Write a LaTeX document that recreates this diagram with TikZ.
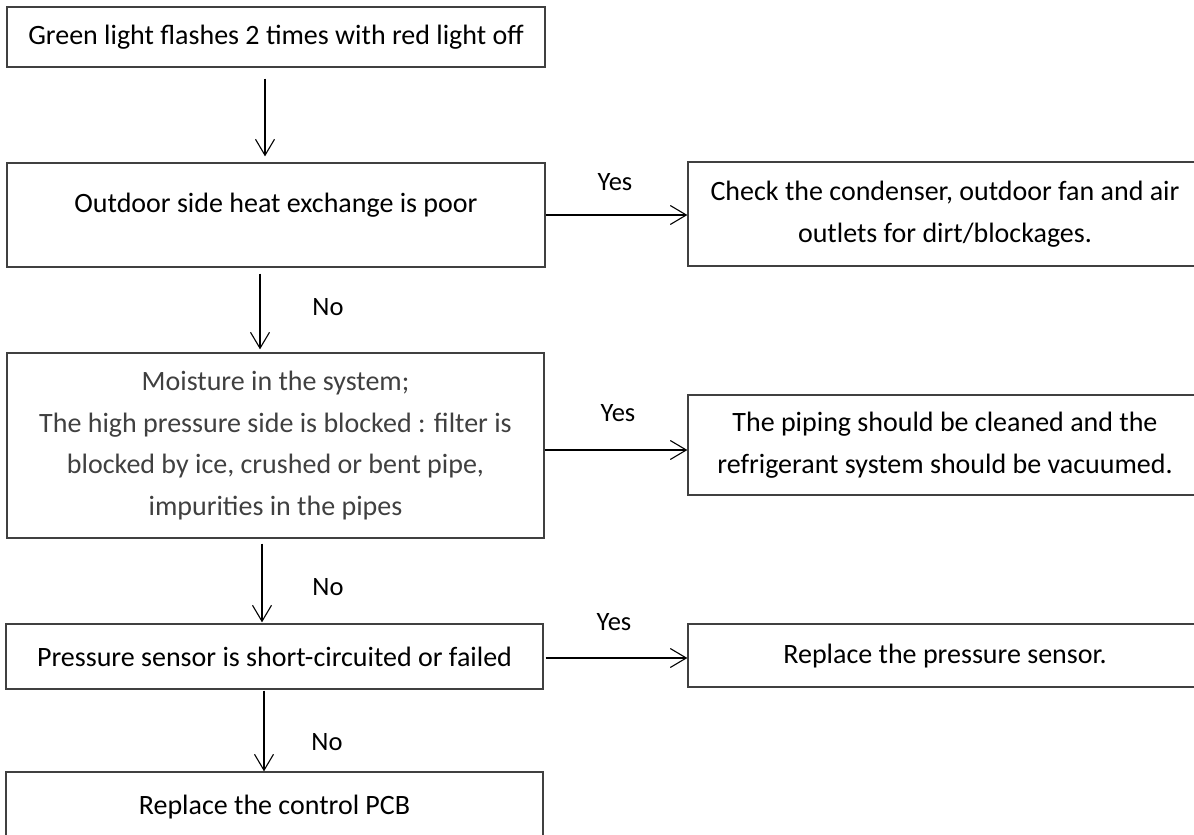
\documentclass[tikz,border=0pt]{standalone}
\usepackage{fontspec}
\setmainfont{Carlito}
\usetikzlibrary{arrows.meta}
\definecolor{linec}{HTML}{404040}
\definecolor{greytext}{HTML}{404040}
\tikzset{
  box/.style={draw=linec, line width=1.3pt, align=center, inner sep=0pt, font=\fontsize{28}{41.5}\selectfont, anchor=center},
  arr/.style={draw=black, line width=1.1pt, -{Straight Barb[length=16pt,width=19pt,line width=1.1pt]}},
  lbl/.style={font=\fontsize{26.5}{30}\selectfont, inner sep=0pt}
}
\begin{document}
\begin{tikzpicture}[x=1pt,y=-1pt]
\useasboundingbox (0,0) rectangle (1194,835);
\clip (0,0) rectangle (1194,835);
% left column
\node[box, minimum width=538, minimum height=60] (b1) at (276,37) {Green light flashes 2 times with red light off};
\node[box, minimum width=538, minimum height=104, text depth=24pt] (b2) at (276,215) {Outdoor side heat exchange is poor};
\node[box, minimum width=537, minimum height=185, text=greytext] (b3) at (275.5,445.5) {Moisture in the system;\\The high pressure side is blocked : filter is\\blocked by ice, crushed or bent pipe,\\impurities in the pipes};
\node[box, minimum width=537, minimum height=65] (b4) at (274.5,656.5) {Pressure sensor is short-circuited or failed};
\node[box, minimum width=537, minimum height=70] (b5) at (274.5,807) {Replace the control PCB};
% right column
\node[box, minimum width=514, minimum height=104] (r2) at (945,214) {Check the condenser, outdoor fan and air\\outlets for dirt/blockages.};
\node[box, minimum width=514, minimum height=100] (r3) at (945,445) {The piping should be cleaned and the\\refrigerant system should be vacuumed.};
\node[box, minimum width=514, minimum height=63, text depth=3pt] (r4) at (945,655.5) {Replace the pressure sensor.};
% connector positions
\coordinate (c1) at (265,0);
\coordinate (c2) at (260,0);
\coordinate (c3) at (262,0);
\coordinate (c4) at (264,0);
\coordinate (h2) at (0,215);
\coordinate (h3) at (0,450);
\coordinate (h4) at (0,658);
% vertical arrows
\draw[arr, shorten <=11pt, shorten >=6pt] (b1.south -| c1) -- (b2.north -| c1);
\draw[arr, shorten <=6pt, shorten >=3pt] (b2.south -| c2) -- (b3.north -| c2);
\draw[arr, shorten <=5pt, shorten >=1pt] (b3.south -| c3) -- (b4.north -| c3);
\draw[arr, shorten <=1pt] (b4.south -| c4) -- (b5.north -| c4);
% horizontal arrows
\draw[arr] (b2.east |- h2) -- (r2.west |- h2);
\draw[arr] (b3.east |- h3) -- (r3.west |- h3);
\draw[arr, shorten <=2pt] (b4.east |- h4) -- (r4.west |- h4);
% labels
\node[lbl] (y2) at (615,182) {Yes};
\node[lbl] (y3) at (618,413) {Yes};
\node[lbl] (y4) at (614,622) {Yes};
\node[lbl] (n2) at (328,307) {No};
\node[lbl] (n3) at (328,587) {No};
\node[lbl] (n4) at (327,742) {No};
\end{tikzpicture}
\end{document}
